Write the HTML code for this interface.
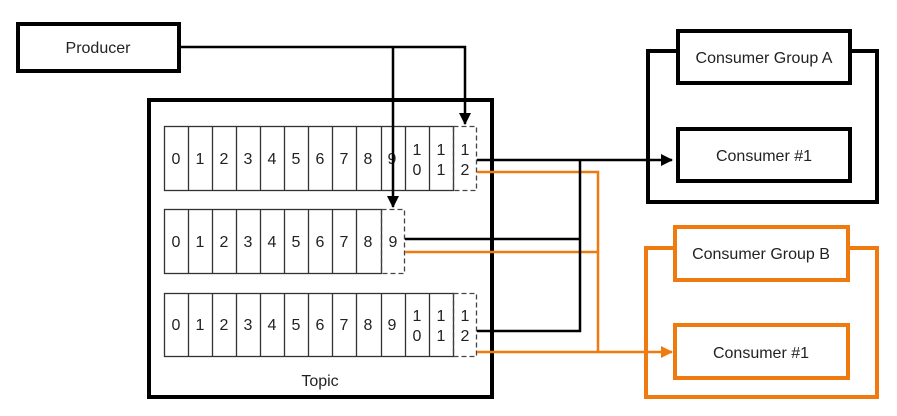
<!DOCTYPE html>
<html><head><style>
html,body{margin:0;padding:0;background:#fff;}
svg{display:block;}
text{font-family:"Liberation Sans",sans-serif;fill:#222;}
</style></head><body>
<svg width="897" height="416" viewBox="0 0 897 416" xmlns="http://www.w3.org/2000/svg">
<defs>
<marker id="ab" markerWidth="12" markerHeight="12" refX="11" refY="6" orient="auto" markerUnits="userSpaceOnUse"><path d="M0,0 L12,6 L0,12 z" fill="#000"/></marker>
<marker id="ao" markerWidth="12" markerHeight="12" refX="11" refY="6" orient="auto" markerUnits="userSpaceOnUse"><path d="M0,0 L12,6 L0,12 z" fill="#ee7a10"/></marker>
</defs>
<rect x="18" y="24" width="161" height="47" fill="#fff" stroke="#000" stroke-width="4"/>
<text x="98" y="53" font-size="16" text-anchor="middle">Producer</text>
<rect x="149" y="100" width="343" height="297" fill="#fff" stroke="#000" stroke-width="4"/>
<text x="320" y="386" font-size="16" text-anchor="middle">Topic</text>
<g stroke="#333" stroke-width="1.3" fill="#fff">
<rect x="164.5" y="126.5" width="289" height="64"/>
<rect x="164.5" y="209.5" width="217" height="64"/>
<rect x="164.5" y="293.5" width="289" height="63"/>
</g>
<g stroke="#333" stroke-width="1.3">
<path d="M188.5 126v64M212.5 126v64M236.5 126v64M260.5 126v64M284.5 126v64M308.5 126v64M332.5 126v64M356.5 126v64M381.5 126v64M405.5 126v64M429.5 126v64"/>
<path d="M188.5 209v64M212.5 209v64M236.5 209v64M260.5 209v64M284.5 209v64M308.5 209v64M332.5 209v64M356.5 209v64"/>
<path d="M188.5 293v63M212.5 293v63M236.5 293v63M260.5 293v63M284.5 293v63M308.5 293v63M332.5 293v63M356.5 293v63M381.5 293v63M405.5 293v63M429.5 293v63"/>
</g>
<g stroke="#444" stroke-width="1.3" fill="none" stroke-dasharray="5,3">
<rect x="453.5" y="126.5" width="23" height="64"/>
<rect x="381.5" y="209.5" width="23" height="64"/>
<rect x="453.5" y="293.5" width="23" height="63"/>
</g>
<g font-size="16" text-anchor="middle">
<text x="176" y="164">0</text><text x="200" y="164">1</text><text x="224" y="164">2</text><text x="248" y="164">3</text><text x="272" y="164">4</text><text x="296" y="164">5</text><text x="320" y="164">6</text><text x="344" y="164">7</text><text x="368" y="164">8</text><text x="392" y="164">9</text>
<text x="417" y="155">1</text><text x="417" y="175">0</text><text x="441" y="155">1</text><text x="441" y="175">1</text><text x="465" y="155">1</text><text x="465" y="175">2</text>
<text x="176" y="247">0</text><text x="200" y="247">1</text><text x="224" y="247">2</text><text x="248" y="247">3</text><text x="272" y="247">4</text><text x="296" y="247">5</text><text x="320" y="247">6</text><text x="344" y="247">7</text><text x="368" y="247">8</text><text x="393" y="247">9</text>
<text x="176" y="330">0</text><text x="200" y="330">1</text><text x="224" y="330">2</text><text x="248" y="330">3</text><text x="272" y="330">4</text><text x="296" y="330">5</text><text x="320" y="330">6</text><text x="344" y="330">7</text><text x="368" y="330">8</text><text x="392" y="330">9</text>
<text x="417" y="321">1</text><text x="417" y="341">0</text><text x="441" y="321">1</text><text x="441" y="341">1</text><text x="465" y="321">1</text><text x="465" y="341">2</text>
</g>
<g fill="none" stroke="#000" stroke-width="2.5">
<path d="M179 47H465V124" marker-end="url(#ab)"/>
<path d="M393 47V207" marker-end="url(#ab)"/>
</g>
<g fill="none" stroke="#ee7a10" stroke-width="2.5">
<path d="M477 172H598V352"/>
<path d="M405 252H598"/>
<path d="M477 352H672" marker-end="url(#ao)"/>
</g>
<g fill="none" stroke="#000" stroke-width="2.5">
<path d="M477 160H672" marker-end="url(#ab)"/>
<path d="M580 160V331H477"/>
<path d="M405 239H580"/>
</g>
<rect x="648" y="51" width="229" height="151" fill="none" stroke="#000" stroke-width="4"/>
<rect x="678" y="31" width="172" height="52" fill="#fff" stroke="#000" stroke-width="4"/>
<text x="764" y="63" font-size="16" text-anchor="middle">Consumer Group A</text>
<rect x="678" y="129" width="172" height="52" fill="#fff" stroke="#000" stroke-width="4"/>
<text x="764" y="161" font-size="16" text-anchor="middle">Consumer #1</text>
<rect x="646" y="248" width="231" height="149" fill="none" stroke="#ee7a10" stroke-width="4"/>
<rect x="675" y="227" width="173" height="53" fill="#fff" stroke="#ee7a10" stroke-width="4"/>
<text x="761" y="259" font-size="16" text-anchor="middle">Consumer Group B</text>
<rect x="675" y="325" width="173" height="53" fill="#fff" stroke="#ee7a10" stroke-width="4"/>
<text x="761" y="358" font-size="16" text-anchor="middle">Consumer #1</text>
</svg>
</body></html>
